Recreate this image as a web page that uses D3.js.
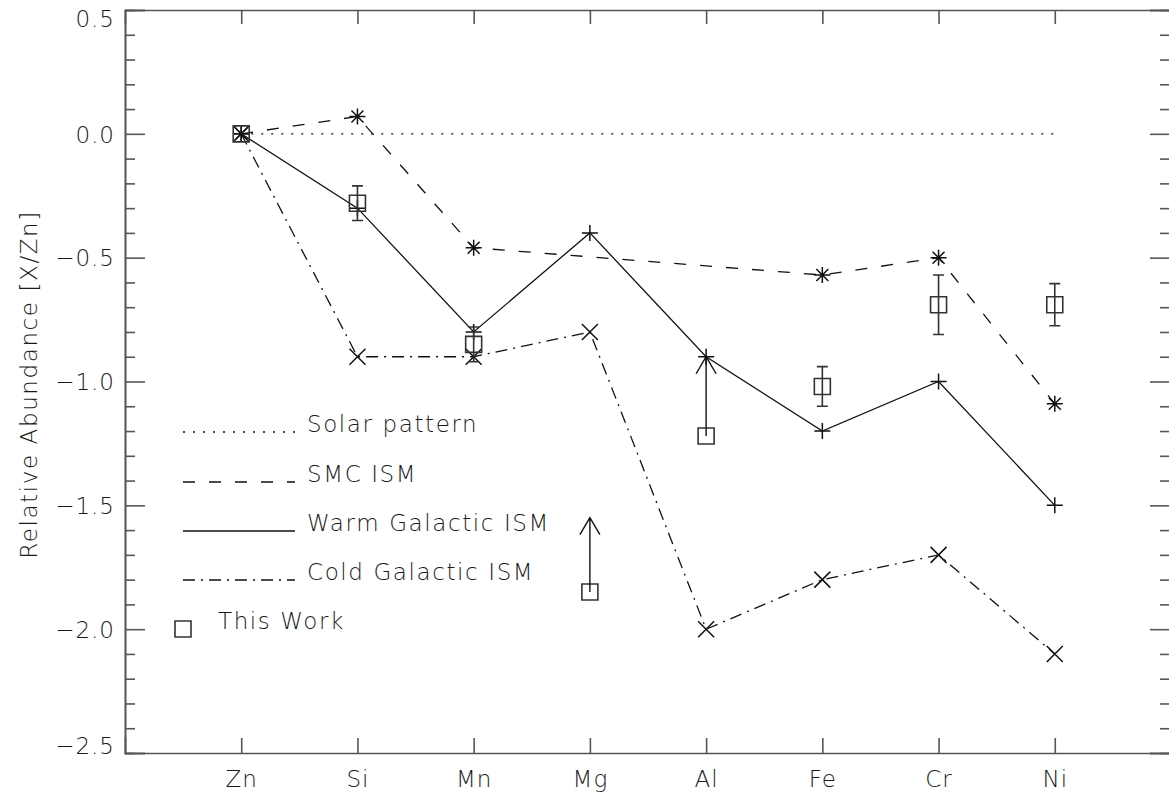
<!DOCTYPE html>
<html>
<head>
<meta charset="utf-8">
<script src="https://cdn.jsdelivr.net/npm/d3@7"></script>
<style>
  html, body { margin: 0; padding: 0; background: #fff; }
  svg { display: block; }
  text { font-family: "DejaVu Sans", sans-serif; font-weight: 200; fill: #1a1a1a; }
</style>
</head>
<body>
<svg id="chart" width="1169" height="801"></svg>
<script>
// Element abundances relative to Zn, [X/Zn]
const elements = ["Zn", "Si", "Mn", "Mg", "Al", "Fe", "Cr", "Ni"];
const solarPattern = [0, 0, 0, 0, 0, 0, 0, 0];
const smcISM = [0, 0.07, -0.46, null, null, -0.57, -0.50, -1.09];
const warmISM = [0, -0.30, -0.80, -0.40, -0.90, -1.20, -1.00, -1.50];
const coldISM = [0, -0.90, -0.90, -0.80, -2.00, -1.80, -1.70, -2.10];
const thisWork = [0, -0.28, -0.85, -1.85, -1.22, -1.02, -0.69, -0.69];
const thisWorkErr = [null, 0.07, 0.07, null, null, 0.08, 0.12, 0.085];
const thisWorkLowerLimitTo = [null, null, null, -1.55, -0.90, null, null, null];

const yMajorTicks = [-2.5, -2.0, -1.5, -1.0, -0.5, 0.0, 0.5];
const legendLabels = ["Solar pattern", "SMC ISM", "Warm Galactic ISM", "Cold Galactic ISM", "This Work"];
const yTitle = "Relative Abundance [X/Zn]";

const svg = d3.select("#chart");
const frame = { left: 125, right: 1171, top: 10, bottom: 753 };

// Categories sit at positions 1..8 of a 0..9 axis
const xIdx = d3.scaleLinear().domain([0, elements.length + 1]).range([frame.left, frame.right]);
const x = d3.scalePoint().domain(elements).range([xIdx(1), xIdx(elements.length)]);
const y = d3.scaleLinear().domain([-2.5, 0.5]).range([frame.bottom, frame.top]);

const axisColor = "#555";
const ink = "#111";
const fontSize = 23;

const yMinorTicks = d3.range(-25, 6).map(v => v / 10).filter(v => !yMajorTicks.some(m => Math.abs(m - v) < 1e-9));

function styleAxis(g) {
  g.select(".domain").attr("stroke", axisColor).attr("stroke-width", 1.6);
  g.selectAll(".tick line").attr("stroke", axisColor).attr("stroke-width", 1.6);
  g.selectAll(".tick text").attr("font-size", fontSize).attr("fill", "#1a1a1a")
    .attr("font-family", "DejaVu Sans, sans-serif").attr("font-weight", 200)
    .attr("letter-spacing", 1);
}

// Left axis: major with labels, minor without
const leftMajor = svg.append("g").attr("transform", `translate(${frame.left},0)`)
  .call(d3.axisLeft(y).tickValues(yMajorTicks).tickSize(-20).tickPadding(10).tickFormat(d3.format(".1f")))
  .call(styleAxis);
leftMajor.selectAll(".tick text").attr("dy", d => d === 0.5 ? "0.73em" : (d === -2.5 ? "0em" : "0.36em"));
svg.append("g").attr("transform", `translate(${frame.left},0)`)
  .call(d3.axisLeft(y).tickValues(yMinorTicks).tickSize(-10).tickFormat(""))
  .call(styleAxis);

// Right axis
svg.append("g").attr("transform", `translate(${frame.right - 1},0)`)
  .call(d3.axisRight(y).tickValues(yMajorTicks).tickSize(-20).tickFormat(""))
  .call(styleAxis);
svg.append("g").attr("transform", `translate(${frame.right - 1},0)`)
  .call(d3.axisRight(y).tickValues(yMinorTicks).tickSize(-10).tickFormat(""))
  .call(styleAxis);

// Bottom axis with element names
const xAxisScale = d3.scaleLinear().domain(xIdx.domain()).range(xIdx.range());
svg.append("g").attr("transform", `translate(0,${frame.bottom})`)
  .call(d3.axisBottom(xAxisScale).tickValues(d3.range(1, elements.length + 1)).tickSize(-15).tickPadding(18)
    .tickFormat(i => elements[i - 1]))
  .call(styleAxis);

// Top axis
svg.append("g").attr("transform", `translate(0,${frame.top})`)
  .call(d3.axisTop(xAxisScale).tickValues(d3.range(1, elements.length + 1)).tickSize(-14).tickFormat(""))
  .call(styleAxis);

// Y axis title
svg.append("text")
  .attr("transform", `translate(37,${(frame.top + frame.bottom) / 2 + 3}) rotate(-90)`)
  .attr("text-anchor", "middle")
  .attr("font-size", fontSize)
  .attr("letter-spacing", 1.6)
  .text(yTitle);

// Marker symbols
const R = 8;
const markers = {
  plus: `M${-R},0H${R}M0,${-R}V${R}`,
  cross: `M${-R},${-R}L${R},${R}M${-R},${R}L${R},${-R}`,
  asterisk: `M${-R},0H${R}M0,${-R}V${R}M${-6},${-6}L6,6M${-6},6L6,${-6}`,
  square: `M${-R},${-R}H${R}V${R}H${-R}Z`
};

const series = [
  { values: solarPattern, dash: "2,8", marker: null },
  { values: smcISM, dash: "12,14", marker: "asterisk" },
  { values: warmISM, dash: null, marker: "plus" },
  { values: coldISM, dash: "12,6,2,6", marker: "cross" }
];

const line = d3.line().x(d => x(d.el)).y(d => y(d.v));

series.forEach(s => {
  const pts = elements.map((el, i) => ({ el, v: s.values[i] })).filter(d => d.v !== null);
  svg.append("path")
    .attr("d", line(pts))
    .attr("fill", "none")
    .attr("stroke", ink)
    .attr("stroke-width", 1.3)
    .attr("stroke-dasharray", s.dash);
  if (s.marker) {
    svg.append("g").selectAll("path").data(pts).join("path")
      .attr("transform", d => `translate(${x(d.el)},${y(d.v)})`)
      .attr("d", markers[s.marker])
      .attr("fill", "none")
      .attr("stroke", ink)
      .attr("stroke-width", 1.5);
  }
});

// This work: squares, error bars and lower-limit arrows
const tw = elements.map((el, i) => ({ el, v: thisWork[i], err: thisWorkErr[i], lim: thisWorkLowerLimitTo[i] }));
const twG = svg.append("g").attr("stroke", "#333").attr("fill", "none").attr("stroke-width", 1.6);

twG.selectAll("path.sq").data(tw).join("path")
  .attr("class", "sq")
  .attr("transform", d => `translate(${x(d.el)},${y(d.v)})`)
  .attr("d", markers.square);

const withErr = tw.filter(d => d.err !== null);
const cap = 5.5;
twG.selectAll("path.err").data(withErr).join("path")
  .attr("class", "err")
  .attr("d", d => {
    const cx = x(d.el), y1 = y(d.v + d.err), y2 = y(d.v - d.err);
    return `M${cx},${y1}V${y2}M${cx - cap},${y1}H${cx + cap}M${cx - cap},${y2}H${cx + cap}`;
  });

const withLim = tw.filter(d => d.lim !== null);
twG.selectAll("path.lim").data(withLim).join("path")
  .attr("class", "lim")
  .attr("stroke", ink)
  .attr("stroke-width", 1.4)
  .attr("d", d => {
    const cx = x(d.el), y0 = y(d.v), yt = y(d.lim);
    return `M${cx},${y0}V${yt}M${cx - 10},${yt + 17}L${cx},${yt}L${cx + 10},${yt + 17}`;
  });

// Legend
const legend = svg.append("g");
const legX0 = 183, legX1 = 295, legText = 307;
const legBase = [432, 482, 531, 580];
series.forEach((s, i) => {
  legend.append("line")
    .attr("x1", legX0).attr("x2", legX1)
    .attr("y1", legBase[i]).attr("y2", legBase[i])
    .attr("stroke", ink).attr("stroke-width", 1.3)
    .attr("stroke-dasharray", s.dash);
  legend.append("text")
    .attr("x", legText).attr("y", legBase[i])
    .attr("font-size", fontSize).attr("letter-spacing", 1.6)
    .text(legendLabels[i]);
});
legend.append("path")
  .attr("transform", `translate(183,629)`)
  .attr("d", markers.square)
  .attr("fill", "none").attr("stroke", "#333").attr("stroke-width", 1.6);
legend.append("text")
  .attr("x", 218).attr("y", 629)
  .attr("font-size", fontSize).attr("letter-spacing", 1.6)
  .text(legendLabels[4]);
</script>
</body>
</html>
